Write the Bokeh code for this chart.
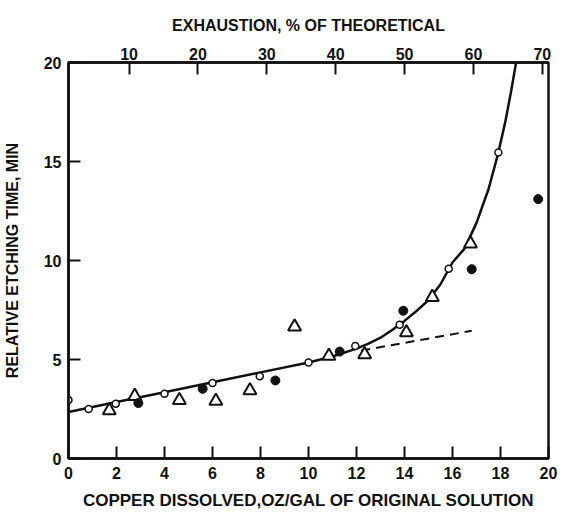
from bokeh.plotting import figure
from bokeh.models import LinearAxis, Range1d, FixedTicker
from bokeh.embed import file_html
from bokeh.resources import INLINE

# ---- data ----
x_ticks = [0, 2, 4, 6, 8, 10, 12, 14, 16, 18, 20]
y_ticks = [0, 5, 10, 15, 20]
pct_ticks = [10, 20, 30, 40, 50, 60, 70]

# solid fitted curve
curve_x = [0, 2, 4, 6, 8, 10, 11, 12, 12.5, 13, 13.5, 14, 14.5, 15, 15.5, 16,
           16.5, 17.0, 17.5, 17.9, 18.2, 18.45, 18.65]
curve_y = [2.35, 2.85, 3.35, 3.85, 4.35, 4.85, 5.15, 5.55, 5.8, 6.1, 6.5, 6.95,
           7.45, 8.0, 8.8, 9.9, 10.6, 11.9, 13.6, 15.4, 17.0, 18.6, 20.0]

# dashed extrapolation
dash_x = [12.2, 16.8]
dash_y = [5.45, 6.45]

# open circles
open_x = [0.0, 0.84, 1.97, 4.0, 6.0, 7.97, 10.0, 11.95, 13.8, 15.84, 17.91]
open_y = [2.95, 2.5, 2.77, 3.27, 3.81, 4.16, 4.85, 5.68, 6.75, 9.58, 15.45]

# triangles
tri_x = [1.7, 2.76, 4.62, 6.14, 7.56, 9.42, 10.85, 12.34, 14.08, 15.16, 16.75]
tri_y = [2.43, 3.15, 2.94, 2.9, 3.44, 6.66, 5.18, 5.25, 6.36, 8.15, 10.84]

# filled circles
fill_x = [2.91, 5.59, 8.62, 11.3, 13.95, 16.8, 19.57]
fill_y = [2.8, 3.52, 3.94, 5.4, 7.46, 9.56, 13.1]

INK = "#111111"
FONT = "Liberation Sans"

p = figure(width=558, height=512, x_range=Range1d(0, 20), y_range=Range1d(0, 20),
           output_backend="svg", toolbar_location=None,
           min_border_left=62, min_border_right=10, min_border_top=62,
           min_border_bottom=52)
p.extra_x_ranges = {"pct": Range1d(1.2, 70.9)}

top = LinearAxis(x_range_name="pct", ticker=FixedTicker(ticks=pct_ticks),
                 axis_label="EXHAUSTION, % OF THEORETICAL")
p.add_layout(top, "above")

bottom = p.below[0]
left = p.left[0]
bottom.ticker = FixedTicker(ticks=x_ticks)
left.ticker = FixedTicker(ticks=y_ticks)
bottom.axis_label = "COPPER DISSOLVED,OZ/GAL OF ORIGINAL SOLUTION"
left.axis_label = "RELATIVE ETCHING TIME, MIN"

for ax in (bottom, left, top):
    ax.axis_line_color = INK
    ax.axis_line_width = 2.5
    ax.major_tick_line_color = INK
    ax.major_tick_line_width = 2
    ax.major_tick_in = 12
    ax.major_tick_out = 0
    ax.minor_tick_line_color = None
    ax.major_label_text_font = FONT
    ax.major_label_text_font_size = "16px"
    ax.major_label_text_font_style = "bold"
    ax.major_label_text_color = INK
    ax.axis_label_text_font = FONT
    ax.axis_label_text_font_size = "16px"
    ax.axis_label_text_font_style = "bold"
    ax.axis_label_text_color = INK

bottom.axis_label_text_font_size = "17px"
left.major_label_standoff = 7
left.axis_label_standoff = 20
top.major_label_standoff = 3
top.axis_label_standoff = 11
bottom.major_label_standoff = 8
bottom.axis_label_standoff = 9

p.xgrid.visible = False
p.ygrid.visible = False
p.outline_line_color = INK
p.outline_line_width = 2.5
p.outline_line_alpha = 1.0

p.line(curve_x, curve_y, line_color=INK, line_width=2.5)
p.line(dash_x, dash_y, line_color=INK, line_width=2, line_dash="9 6")

p.scatter(tri_x, tri_y, marker="triangle", size=13, fill_color="white",
          line_color=INK, line_width=2)
p.scatter(open_x, open_y, marker="circle", size=7, fill_color="white",
          line_color=INK, line_width=1.5)
p.scatter(fill_x, fill_y, marker="circle", size=9, fill_color=INK,
          line_color=INK)

open("out.html", "w").write(file_html(p, INLINE))
